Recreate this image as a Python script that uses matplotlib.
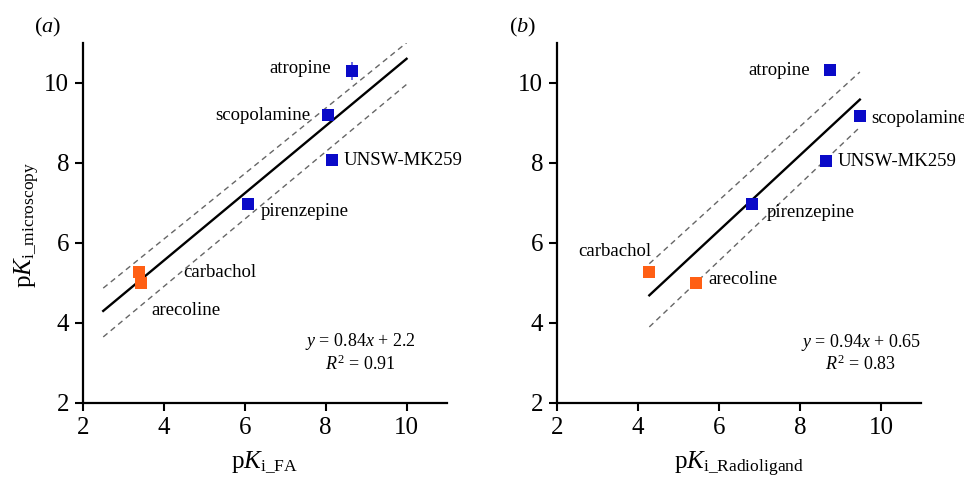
import matplotlib
matplotlib.use("Agg")
import matplotlib.pyplot as plt
import numpy as np

plt.rcParams['font.family'] = ['Liberation Serif', 'DejaVu Serif']
plt.rcParams['mathtext.fontset'] = 'custom'
plt.rcParams['mathtext.rm'] = 'Liberation Serif'
plt.rcParams['mathtext.it'] = 'Liberation Serif:italic'

# compounds
names = ['atropine', 'scopolamine', 'UNSW-MK259', 'pirenzepine', 'carbachol', 'arecoline']
kind = ['antag', 'antag', 'antag', 'antag', 'ago', 'ago']

# panel (a): pKi FA vs pKi microscopy
fa_x = [8.64, 8.06, 8.16, 6.08, 3.39, 3.44]
fa_y = [10.29, 9.19, 8.07, 6.96, 5.28, 5.00]
fa_yerr = [0.22, 0.05, 0.04, 0.05, 0.05, 0.05]
fa_xerr = [0.04, 0.04, 0.12, 0.04, 0.04, 0.08]
fa_fit_x = [2.5, 10.0]
fa_fit_y = [4.30, 10.60]
fa_up = [4.87, 11.0]
fa_lo = [3.65, 9.96]

# panel (b): pKi radioligand vs pKi microscopy
rl_x = [8.74, 9.48, 8.64, 6.82, 4.28, 5.44]
rl_y = [10.32, 9.16, 8.05, 6.96, 5.27, 4.99]
rl_yerr = [0.12, 0.05, 0.04, 0.05, 0.05, 0.04]
rl_fit_x = [4.28, 9.48]
rl_fit_y = [4.69, 9.58]
rl_up = [5.48, 10.27]
rl_lo = [3.90, 8.89]

colors = {'antag': '#0a0ac8', 'ago': '#ff5f14'}

fig = plt.figure(figsize=(9.64, 4.79), dpi=100)
ax1 = fig.add_axes([0.0861, 0.1587, 0.3776, 0.752])
ax2 = fig.add_axes([0.5778, 0.1587, 0.378, 0.752])


def style(ax, xlabel):
    ax.set_xlim(2, 11)
    ax.set_ylim(2, 11)
    ax.set_xticks([2, 4, 6, 8, 10])
    ax.set_yticks([2, 4, 6, 8, 10])
    for s in ['top', 'right']:
        ax.spines[s].set_visible(False)
    for s in ['left', 'bottom']:
        ax.spines[s].set_linewidth(1.6)
    ax.tick_params(direction='out', length=6, width=1.5, labelsize=18, pad=4)
    ax.set_xlabel(xlabel, fontsize=18, labelpad=8)


def draw(ax, xs, ys, yerr, xerr, fx, fy, up, lo):
    ax.plot(fx, fy, color='black', lw=1.7, zorder=2)
    ax.plot(fx, up, color='#666666', lw=1.0, ls=(0, (4, 3)), zorder=2)
    ax.plot(fx, lo, color='#666666', lw=1.0, ls=(0, (4, 3)), zorder=2)
    for i in range(len(xs)):
        c = colors[kind[i]]
        ax.errorbar(xs[i], ys[i], yerr=yerr[i], xerr=None if xerr is None else xerr[i],
                    fmt='s', color=c, ecolor='#5555dd', elinewidth=1.2, capsize=4,
                    capthick=1.2, markersize=8.5, markeredgewidth=0, zorder=3)


draw(ax1, fa_x, fa_y, fa_yerr, fa_xerr, fa_fit_x, fa_fit_y, fa_up, fa_lo)
draw(ax2, rl_x, rl_y, rl_yerr, None, rl_fit_x, rl_fit_y, rl_up, rl_lo)

style(ax1, r'p$K_{\mathrm{i\_FA}}$')
style(ax2, r'p$K_{\mathrm{i\_Radioligand}}$')
ax1.set_ylabel(r'p$K_{\mathrm{i\_microscopy}}$', fontsize=18)
ax1.yaxis.set_label_coords(-0.112, 0.494)

fs = 13.5
# labels panel (a)
ax1.text(8.12, 10.35, 'atropine', ha='right', va='center', fontsize=fs)
ax1.text(7.61, 9.19, 'scopolamine', ha='right', va='center', fontsize=fs)
ax1.text(8.45, 8.05, 'UNSW-MK259', ha='left', va='center', fontsize=fs)
ax1.text(6.40, 6.78, 'pirenzepine', ha='left', va='center', fontsize=fs)
ax1.text(4.47, 5.25, 'carbachol', ha='left', va='center', fontsize=fs)
ax1.text(3.69, 4.30, 'arecoline', ha='left', va='center', fontsize=fs)
ax1.text(8.86, 3.53, r'$y$ = 0.84$x$ + 2.2', ha='center', va='center', fontsize=13)
ax1.text(8.86, 2.97, r'$R^2$ = 0.91', ha='center', va='center', fontsize=13)

# labels panel (b)
ax2.text(8.25, 10.30, 'atropine', ha='right', va='center', fontsize=fs)
ax2.text(9.75, 9.12, 'scopolamine', ha='left', va='center', fontsize=fs)
ax2.text(8.94, 8.03, 'UNSW-MK259', ha='left', va='center', fontsize=fs)
ax2.text(7.17, 6.77, 'pirenzepine', ha='left', va='center', fontsize=fs)
ax2.text(4.32, 5.79, 'carbachol', ha='right', va='center', fontsize=fs)
ax2.text(5.74, 5.08, 'arecoline', ha='left', va='center', fontsize=fs)
ax2.text(9.50, 3.52, r'$y$ = 0.94$x$ + 0.65', ha='center', va='center', fontsize=13)
ax2.text(9.50, 2.97, r'$R^2$ = 0.83', ha='center', va='center', fontsize=13)

fig.text(48 / 964, 1 - 27 / 479, r'($a$)', ha='center', va='center', fontsize=16)
fig.text(523 / 964, 1 - 27 / 479, r'($b$)', ha='center', va='center', fontsize=16)

fig.savefig('out.png', dpi=100)
